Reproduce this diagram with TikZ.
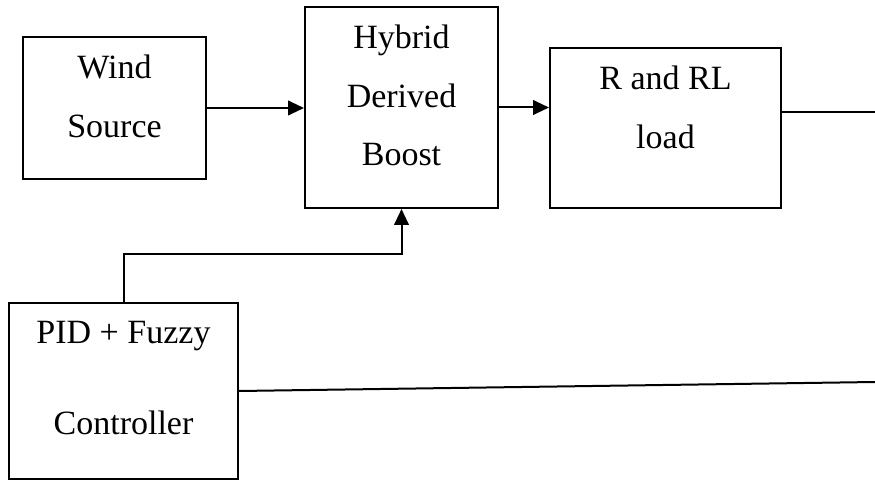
\documentclass[tikz,border=0pt]{standalone}
\usepackage{fontspec}
\setmainfont{Liberation Serif}
\usetikzlibrary{arrows.meta,positioning}

\tikzset{
	block/.style={draw, line width=1.5pt, inner sep=0pt},
	blocktext/.style={anchor=north, inner sep=0pt, align=center, font=\fontsize{25.5}{44}\selectfont},
	wire/.style={line width=1.5pt},
	sig/.style={wire, -{Triangle[length=12pt,width=11pt]}}
}

\begin{document}
\begin{tikzpicture}[x=0.75pt, y=-0.75pt]
	\useasboundingbox (0,0) rectangle (875,481);

	% blocks
	\node[block, minimum width=137.25pt, minimum height=106.5pt] (wind) at (114.5,108) {};
	\node[block, minimum width=144.75pt, minimum height=150.75pt] (hybrid) at (401.5,107.5) {};
	\node[block, minimum width=173.25pt, minimum height=120pt] (load) at (665.5,128) {};
	\node[block, minimum width=171.75pt, minimum height=132pt] (pid) at (123.5,391) {};

	\node[blocktext, below=14.1pt of wind.north] (windtxt) {Wind\\Source};
	\node[blocktext, below=14.1pt of hybrid.north] (hybridtxt) {Hybrid\\Derived\\Boost};
	\node[blocktext, below=14.1pt of load.north] (loadtxt) {R and RL\\load};
	\node[blocktext, below=14.6pt of pid.north] (pidtxt) {PID + Fuzzy\\[24pt]Controller};

	% connections
	\coordinate (loadend) at (875,112);
	\coordinate (pidend) at (875,382);
	\coordinate (fb) at (124,254);

	\draw[sig] (wind.east) -- (wind.east -| hybrid.west);
	\draw[sig] (hybrid.east) -- (hybrid.east -| load.west);
	\draw[wire] (loadend -| load.east) -- (loadend);
	\draw[sig] (fb |- pid.north) -- (fb) -| (hybrid.south);
	\draw[wire] (pid.east) -- (pidend);
\end{tikzpicture}
\end{document}
